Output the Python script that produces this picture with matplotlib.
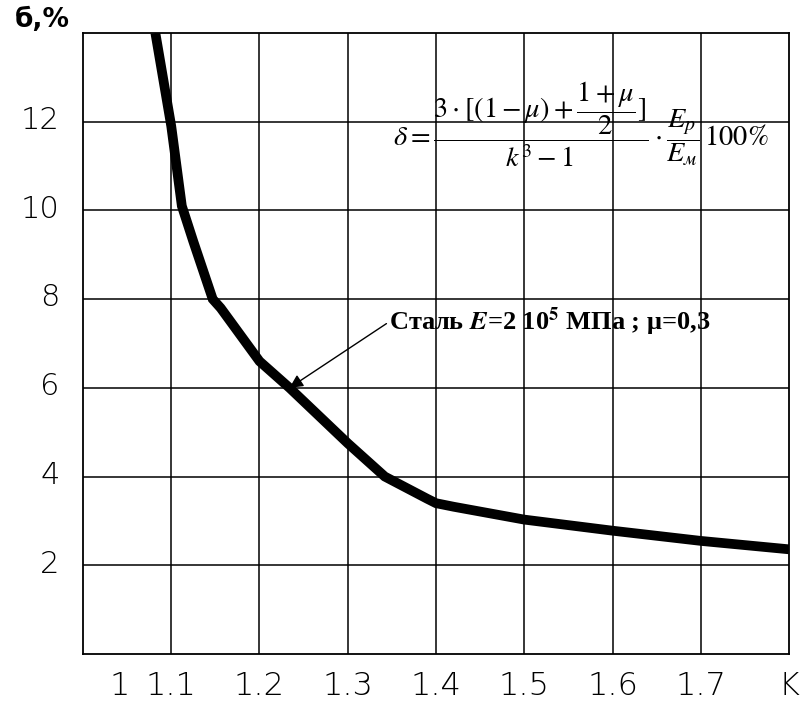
import matplotlib
matplotlib.use("Agg")
import matplotlib.pyplot as plt
import matplotlib.transforms as mtransforms

plt.rcParams["mathtext.fontset"] = "stix"

# curve
k_values = [1.082, 1.100, 1.112, 1.125, 1.147, 1.156, 1.200, 1.234, 1.300,
            1.342, 1.390, 1.400, 1.420, 1.500, 1.600, 1.700, 1.800]
delta_values = [14.0, 11.9, 10.1, 9.3, 8.0, 7.8, 6.6, 6.0, 4.75,
                4.0, 3.5, 3.4, 3.32, 3.03, 2.78, 2.55, 2.36]

x_tick_pos = [1.042, 1.1, 1.2, 1.3, 1.4, 1.5, 1.6, 1.7, 1.8]
x_tick_labels = ["1", "1.1", "1.2", "1.3", "1.4", "1.5", "1.6", "1.7", "K"]
x_grid = [1.1, 1.2, 1.3, 1.4, 1.5, 1.6, 1.7]
y_ticks = [2, 4, 6, 8, 10, 12]

fig = plt.figure(figsize=(8.06, 7.07), dpi=100)
ax = fig.add_axes([83 / 806, 53 / 707, 706 / 806, 621 / 707])

# grid
ax.vlines(x_grid, 0, 14, color="black", linewidth=1.1, zorder=1)
ax.hlines(y_ticks, 1.0, 1.8, color="black", linewidth=1.1, zorder=1)

ax.plot(k_values, delta_values, color="black", linewidth=7,
        solid_joinstyle="miter", solid_capstyle="butt", zorder=3)

ax.set_xlim(1.0, 1.8)
ax.set_ylim(0, 14)

ax.set_xticks(x_tick_pos)
ax.set_xticklabels(x_tick_labels)
ax.set_yticks(y_ticks)
ax.set_yticklabels([str(v) for v in y_ticks])

ax.tick_params(axis="x", length=0, pad=12, labelsize=23)
ax.tick_params(axis="y", length=0, pad=17, labelsize=22)
for lab in ax.get_xticklabels() + ax.get_yticklabels():
    lab.set_fontfamily("DejaVu Sans")
    lab.set_fontweight("light")
# y labels sit a little above their grid lines
up = mtransforms.ScaledTranslation(0, 3 / 72, fig.dpi_scale_trans)
for lab in ax.get_yticklabels():
    lab.set_transform(lab.get_transform() + up)

for s in ax.spines.values():
    s.set_linewidth(1.3)

fig.text(15 / 806, 1 - 20 / 707, "б,%", fontsize=19, fontweight="bold",
         fontfamily="DejaVu Sans", va="center", ha="left")

formula = (r"$\delta = \dfrac{3\cdot[(1-\mu)+\dfrac{1+\mu}{2}]}{k^3-1}"
           r"\cdot\dfrac{E_p}{E_{м}}\,100\%$")
ax.text(1.5636, 11.95, formula, fontsize=20.4, ha="center", va="center", zorder=4)

ax.annotate(r"Сталь $\mathbfit{E}$=2 10$^{\mathbf{5}}$ МПа ; μ=0,3",
            xy=(1.234, 6.0), xytext=(1.347, 7.49),
            fontsize=19, fontweight="bold", fontfamily="Liberation Serif",
            ha="left", va="center", zorder=4,
            arrowprops=dict(arrowstyle="-|>", color="black", lw=1.0,
                            shrinkA=0, shrinkB=0, relpos=(0, 0.5),
                            mutation_scale=20))

fig.savefig("out.png", dpi=100)
